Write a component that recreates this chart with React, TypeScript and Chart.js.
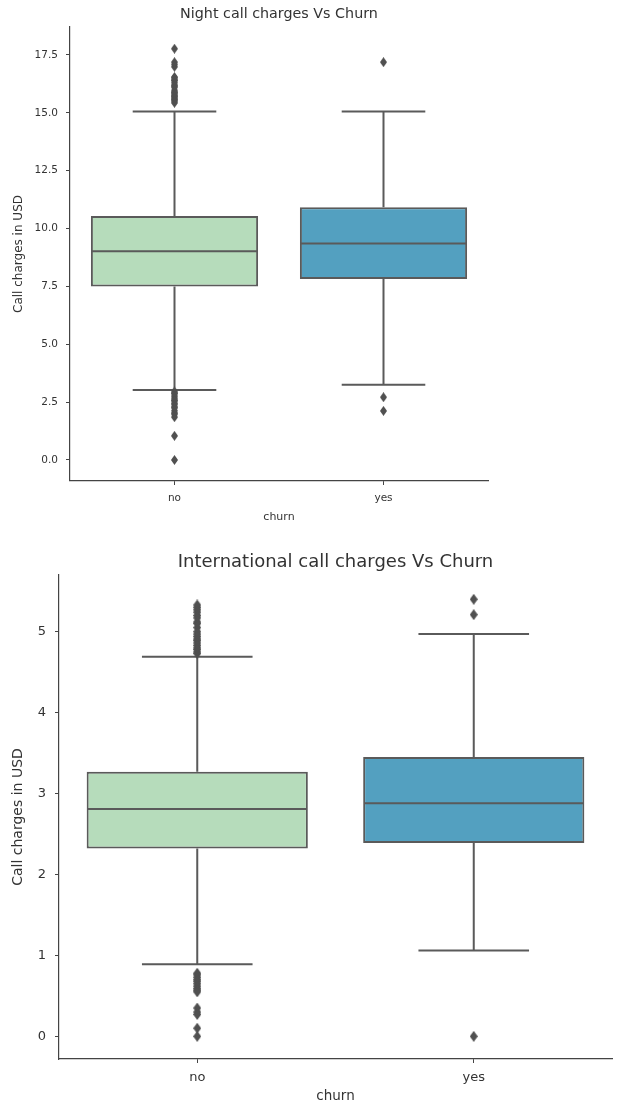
import React, { useEffect, useRef } from 'react';
import { Chart, registerables } from 'chart.js';

Chart.register(...registerables);

// ---------- data ----------
const categories = ['no', 'yes'];

const nightQ1 = [7.5, 7.82];
const nightMedian = [9.02, 9.35];
const nightQ3 = [10.54, 10.92];
const nightWhiskerLow = [3.02, 3.25];
const nightWhiskerHigh = [15.06, 15.06];
const nightOutliersNo = [
  15.43, 15.5, 15.56, 15.6, 15.66, 15.71, 15.74, 15.8, 15.86, 15.9, 15.97, 16.1, 16.15, 16.2,
  16.3, 16.39, 16.42, 16.5, 16.55, 16.99, 17.09, 17.19, 17.77,
  2.96, 2.89, 2.86, 2.76, 2.67, 2.59, 2.55, 2.45, 2.4, 2.3, 2.25, 2.13, 2.03, 1.97, 1.85, 1.04, 0.0,
];
const nightOutliersYes = [17.19, 2.71, 2.12];
const nightTicks = [0, 2.5, 5, 7.5, 10, 12.5, 15, 17.5];

const intlQ1 = [2.32, 2.39];
const intlMedian = [2.81, 2.88];
const intlQ3 = [3.27, 3.45];
const intlWhiskerLow = [0.89, 1.06];
const intlWhiskerHigh = [4.69, 4.97];
const intlOutliersNo = [
  4.73, 4.75, 4.78, 4.8, 4.83, 4.86, 4.89, 4.91, 4.94, 4.97, 5.0, 5.05, 5.1, 5.12, 5.17, 5.2,
  5.24, 5.27, 5.3, 5.33,
  0.78, 0.76, 0.73, 0.7, 0.68, 0.65, 0.62, 0.59, 0.57, 0.55, 0.35, 0.3, 0.27, 0.1, 0.0,
];
const intlOutliersYes = [5.4, 5.21, 0.0];
const intlTicks = [0, 1, 2, 3, 4, 5];

// ---------- styles ----------
const boxColors = ['#b6dcbb', '#53a0c0'];
const lineColor = '#5a5a5a';
const axisColor = '#444444';
const textColor = '#333333';
const fontFamily = '"DejaVu Sans", sans-serif';

function makeDiamond(w: number, h: number, color: string) {
  const c = document.createElement('canvas');
  c.width = w;
  c.height = h;
  const g = c.getContext('2d')!;
  g.fillStyle = color;
  g.beginPath();
  g.moveTo(w / 2, 0);
  g.lineTo(w, h / 2);
  g.lineTo(w / 2, h);
  g.lineTo(0, h / 2);
  g.closePath();
  g.fill();
  return c;
}

function makeBoxPlugin(stats: { q1: number[]; q3: number[]; median: number[]; low: number[]; high: number[] }) {
  return {
    id: 'boxWhiskers',
    afterDatasetDraw(chart: any, args: any) {
      if (args.index !== 0) return;
      const ctx = chart.ctx;
      const y = chart.scales.y;
      const meta = args.meta;
      ctx.save();
      ctx.strokeStyle = lineColor;
      ctx.lineWidth = 2;
      stats.median.forEach((m, i) => {
        const el = meta.data[i];
        const cx = el.x;
        const w = el.width;
        const yq1 = y.getPixelForValue(stats.q1[i]);
        const yq3 = y.getPixelForValue(stats.q3[i]);
        const ym = y.getPixelForValue(m);
        const ylo = y.getPixelForValue(stats.low[i]);
        const yhi = y.getPixelForValue(stats.high[i]);
        ctx.beginPath();
        ctx.moveTo(cx, yq3);
        ctx.lineTo(cx, yhi);
        ctx.moveTo(cx - w / 4, yhi);
        ctx.lineTo(cx + w / 4, yhi);
        ctx.moveTo(cx, yq1);
        ctx.lineTo(cx, ylo);
        ctx.moveTo(cx - w / 4, ylo);
        ctx.lineTo(cx + w / 4, ylo);
        ctx.moveTo(cx - w / 2 + 1, ym);
        ctx.lineTo(cx + w / 2 - 1, ym);
        ctx.stroke();
      });
      ctx.restore();
    },
  };
}

type Spec = {
  title: string;
  titleSize: number;
  titlePad: { top: number; bottom: number };
  q1: number[];
  q3: number[];
  median: number[];
  low: number[];
  high: number[];
  outNo: number[];
  outYes: number[];
  ticks: number[];
  decimals: number;
  min: number;
  max: number;
  tickSize: number;
  xTickPad: number;
  yTickPad: number;
  xLabelSize: number;
  yLabelSize: number;
  xTitlePad: number;
  yTitlePad: number;
  yAxisWidth: number;
  xAxisHeight: number;
  padRight: number;
  diamond: [number, number];
};

function buildChart(canvas: HTMLCanvasElement, s: Spec) {
  const diamond = makeDiamond(s.diamond[0], s.diamond[1], '#505050');
  const outliers = [
    ...s.outNo.map((v) => ({ x: categories[0], y: v })),
    ...s.outYes.map((v) => ({ x: categories[1], y: v })),
  ];
  return new Chart(canvas, {
    type: 'bar',
    data: {
      labels: categories,
      datasets: [
        {
          type: 'bar',
          data: s.q1.map((q, i) => [q, s.q3[i]]) as any,
          backgroundColor: boxColors,
          borderColor: lineColor,
          borderWidth: 2,
          borderSkipped: false,
          barPercentage: 0.8,
          categoryPercentage: 1.0,
          order: 1,
        } as any,
        {
          type: 'scatter',
          data: outliers as any,
          pointStyle: diamond as any,
          pointRadius: 4,
          backgroundColor: '#505050',
          showLine: false,
          order: 0,
        } as any,
      ],
    },
    options: {
      responsive: false,
      animation: false,
      layout: { padding: { left: 0, right: s.padRight, top: 0, bottom: 0 } },
      plugins: {
        legend: { display: false },
        tooltip: { enabled: false },
        title: {
          display: true,
          fullSize: false,
          text: s.title,
          color: textColor,
          font: { family: fontFamily, size: s.titleSize, weight: 'normal', lineHeight: 1.2 },
          padding: s.titlePad,
        },
      },
      scales: {
        x: {
          type: 'category',
          offset: true,
          grid: {
            display: true,
            drawOnChartArea: false,
            drawTicks: true,
            tickLength: 4,
            color: axisColor,
            offset: false,
          },
          border: { display: true, color: axisColor, width: 1.2 },
          ticks: {
            color: textColor,
            font: { family: fontFamily, size: s.tickSize },
            padding: s.xTickPad,
            maxRotation: 0,
          },
          title: {
            display: true,
            text: 'churn',
            color: textColor,
            font: { family: fontFamily, size: s.xLabelSize, lineHeight: 1 },
            padding: { top: 0, bottom: s.xTitlePad },
          },
          afterFit: (sc: any) => {
            sc.height = s.xAxisHeight;
          },
        } as any,
        y: {
          type: 'linear',
          min: s.min,
          max: s.max,
          afterBuildTicks: (sc: any) => {
            sc.ticks = s.ticks.map((v) => ({ value: v }));
          },
          grid: {
            display: true,
            drawOnChartArea: false,
            drawTicks: true,
            tickLength: 4,
            color: axisColor,
          },
          border: { display: true, color: axisColor, width: 1.2 },
          ticks: {
            color: textColor,
            font: { family: fontFamily, size: s.tickSize },
            padding: s.yTickPad,
            callback: (v: any) => Number(v).toFixed(s.decimals),
          },
          title: {
            display: true,
            text: 'Call charges in USD',
            color: textColor,
            font: { family: fontFamily, size: s.yLabelSize, lineHeight: 1.2 },
            padding: { top: s.yTitlePad, bottom: 0 },
          },
          afterFit: (sc: any) => {
            sc.width = s.yAxisWidth;
          },
        } as any,
      },
    },
    plugins: [makeBoxPlugin({ q1: s.q1, q3: s.q3, median: s.median, low: s.low, high: s.high })],
  } as any);
}

export default function App() {
  const topRef = useRef<HTMLCanvasElement>(null);
  const botRef = useRef<HTMLCanvasElement>(null);

  useEffect(() => {
    const c1 = buildChart(topRef.current!, {
      title: 'Night call charges Vs Churn',
      titleSize: 14.3,
      titlePad: { top: 6.1, bottom: 3.7 },
      q1: nightQ1,
      q3: nightQ3,
      median: nightMedian,
      low: nightWhiskerLow,
      high: nightWhiskerHigh,
      outNo: nightOutliersNo,
      outYes: nightOutliersYes,
      ticks: nightTicks,
      decimals: 1,
      min: -0.91,
      max: 18.71,
      tickSize: 10.5,
      xTickPad: 6.5,
      yTickPad: 8,
      xLabelSize: 11,
      yLabelSize: 12,
      xTitlePad: 7.5,
      yTitlePad: 11.3,
      yAxisWidth: 70,
      xAxisHeight: 49,
      padRight: 12,
      diamond: [7, 10],
    });
    const c2 = buildChart(botRef.current!, {
      title: 'International call charges Vs Churn',
      titleSize: 18,
      titlePad: { top: 11.4, bottom: 2 },
      q1: intlQ1,
      q3: intlQ3,
      median: intlMedian,
      low: intlWhiskerLow,
      high: intlWhiskerHigh,
      outNo: intlOutliersNo,
      outYes: intlOutliersYes,
      ticks: intlTicks,
      decimals: 0,
      min: -0.28,
      max: 5.7,
      tickSize: 13,
      xTickPad: 7,
      yTickPad: 9,
      xLabelSize: 13.5,
      yLabelSize: 14,
      xTitlePad: -2,
      yTitlePad: 9.6,
      yAxisWidth: 59,
      xAxisHeight: 42,
      padRight: 1,
      diamond: [8, 11],
    });
    return () => {
      c1.destroy();
      c2.destroy();
    };
  }, []);

  return (
    <div style={{ position: 'absolute', left: 0, top: 0, width: 617, height: 1101, background: '#fff' }}>
      <canvas ref={topRef} width={500} height={530} style={{ position: 'absolute', left: 0, top: 0, display: 'block' }} />
      <canvas ref={botRef} width={617} height={561} style={{ position: 'absolute', left: 0, top: 540, display: 'block' }} />
    </div>
  );
}
